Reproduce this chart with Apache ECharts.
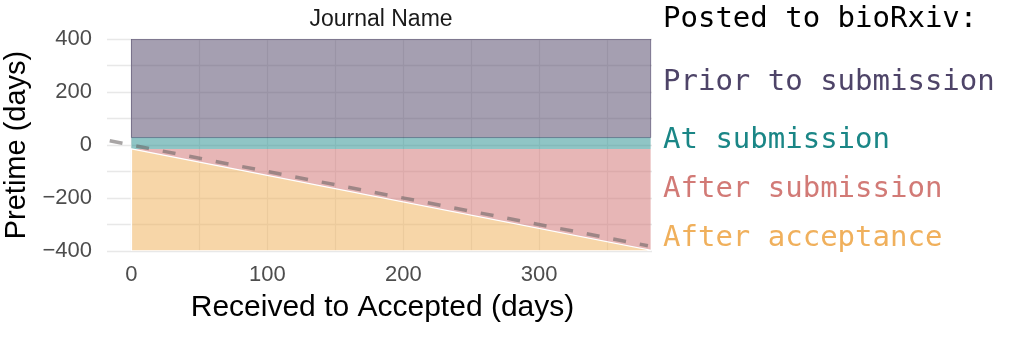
<!DOCTYPE html>
<html>
<head>
<meta charset="utf-8">
<script src="https://cdn.jsdelivr.net/npm/echarts@6/dist/echarts.min.js"></script>
<style>html,body{margin:0;padding:0;background:#fff}#chart{width:1024px;height:362px}</style>
</head>
<body>
<div id="chart"></div>
<script>
// ---- data ----
const xDomain = [-18, 383];
const yDomain = [-400, 400];
const legendTitle = 'Posted to bioRxiv:';
const regionNames = ['Prior to submission', 'At submission', 'After submission', 'After acceptance'];
const priorPoly = [[0, 28], [382, 28], [382, 400], [0, 400]];
const atPoly = [[0, -15], [382, -15], [382, 28], [0, 28]];
const afterSubPoly = [[0, -15], [382, -15], [382, -397]];
const afterAccPoly = [[0, -15], [382, -397], [382, -400], [0, -400]];
const dashedLine = [[-16, 16], [380, -380]];
const xTickLabels = [0, 100, 200, 300];
const yTickLabels = [-400, -200, 0, 200, 400];

// ---- styles ----
const regionColors = ['#4b3f63', '#1f8c8c', '#cf6e6e', '#f0ae52'];
const textColors = ['#4e4468', '#1a8686', '#d27a76', '#f0b05c'];
const sans = '"Liberation Sans", Arial, Helvetica, sans-serif';
const mono = '"DejaVu Sans Mono", monospace';

function withAlpha(hex, a) {
  const n = parseInt(hex.slice(1), 16);
  return 'rgba(' + (n >> 16 & 255) + ',' + (n >> 8 & 255) + ',' + (n & 255) + ',' + a + ')';
}

function polySeries(poly, color, name, stroke, strokeWidth) {
  return {
    type: 'custom', name: name, data: poly, clip: true, silent: true,
    renderItem: function (params, api) {
      if (params.dataIndex !== 0) return null;
      return {
        type: 'polygon',
        shape: { points: poly.map(function (p) { return api.coord(p); }) },
        style: { fill: withAlpha(color, 0.5), stroke: stroke || null, lineWidth: stroke ? (strokeWidth || 1) : 0 }
      };
    }
  };
}

const fmtMinus = v => (v < 0 ? '\u2212' + Math.abs(v) : String(v));

const chart = echarts.init(document.getElementById('chart'), null, { renderer: 'canvas' });
const legendY = [29, 92, 150, 199, 248];
const graphics = [{
  type: 'text', x: 663, y: legendY[0] - 10,
  style: { text: legendTitle, font: '29px ' + mono, fill: '#000', verticalAlign: 'middle' }
}];
regionNames.forEach((n, i) => {
  graphics.push({
    type: 'text', x: 663, y: legendY[i + 1] - 10,
    style: { text: n, font: '29px ' + mono, fill: textColors[i], verticalAlign: 'middle' }
  });
});

chart.setOption({
  animation: false,
  backgroundColor: '#fff',
  title: {
    text: 'Journal Name', left: 376, top: 3, textAlign: 'center',
    textStyle: { fontFamily: sans, fontSize: 23, fontWeight: 'normal', color: '#1a1a1a' }
  },
  grid: { left: 107, right: 372, top: 39, bottom: 111, containLabel: false, outerBoundsMode: 'none' },
  xAxis: {
    type: 'value', min: xDomain[0], max: xDomain[1], splitNumber: 8,
    name: 'Received to Accepted (days)', nameLocation: 'middle', nameGap: 42,
    nameTextStyle: { fontFamily: sans, fontSize: 30, color: '#000', padding: [0, 0, 0, 6] },
    axisLine: { show: false }, axisTick: { show: false },
    axisLabel: {
      fontFamily: sans, fontSize: 22, color: '#4d4d4d', margin: 13,
      showMinLabel: false, showMaxLabel: false,
      formatter: v => (xTickLabels.indexOf(v) >= 0 ? fmtMinus(v) : '')
    },
    splitLine: { show: true, showMinLine: false, showMaxLine: false, lineStyle: { color: '#e8e8e8', width: 1.3 } }
  },
  yAxis: {
    type: 'value', min: yDomain[0], max: yDomain[1], interval: 100,
    name: 'Pretime (days)', nameLocation: 'middle', nameGap: 74, nameRotate: 90,
    nameTextStyle: { fontFamily: sans, fontSize: 29, color: '#000' },
    axisLine: { show: false }, axisTick: { show: false },
    axisLabel: {
      fontFamily: sans, fontSize: 22, color: '#4d4d4d', margin: 15,
      formatter: v => (yTickLabels.indexOf(v) >= 0 ? fmtMinus(v) : '')
    },
    splitLine: { show: true, lineStyle: { color: '#e8e8e8', width: 1.3 } }
  },
  graphic: graphics,
  series: [
    polySeries(priorPoly, regionColors[0], regionNames[0], 'rgba(60,50,90,0.55)', 1),
    polySeries(atPoly, regionColors[1], regionNames[1]),
    polySeries(afterSubPoly, regionColors[2], regionNames[2]),
    polySeries(afterAccPoly, regionColors[3], regionNames[3], '#ffffff', 1.3),
    {
      type: 'line', data: dashedLine, symbol: 'none', silent: true, z: 5,
      lineStyle: { type: [13, 14], width: 3.5, color: 'rgba(105,100,100,0.58)' }
    }
  ]
});
</script>
</body>
</html>
